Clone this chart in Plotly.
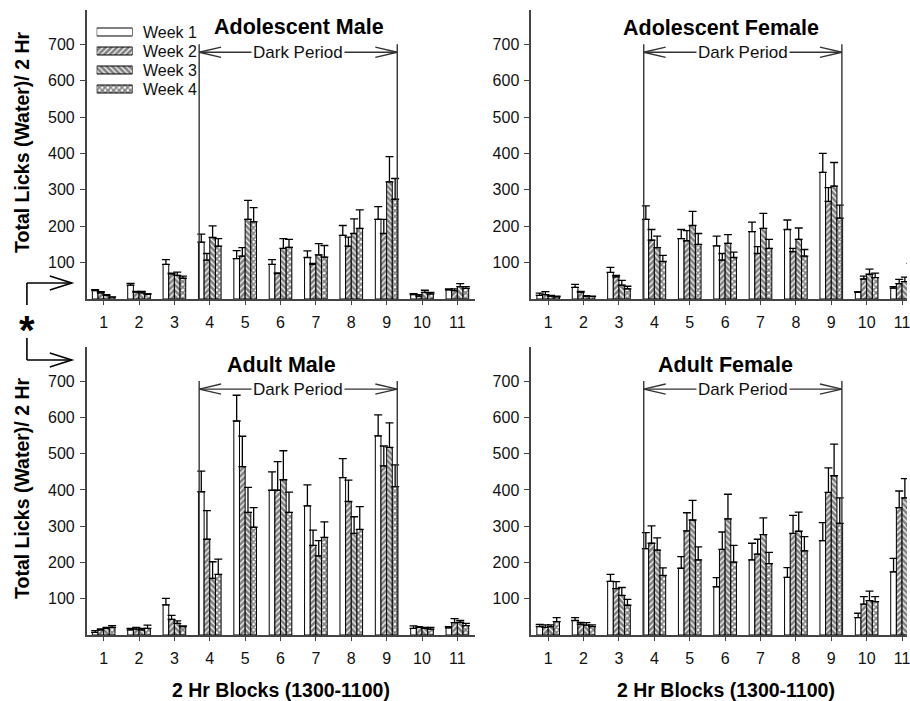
import plotly.graph_objects as go

W, H = 910, 701

blocks = list(range(1, 12))
week_names = ["Week 1", "Week 2", "Week 3", "Week 4"]
panel_titles = ["Adolescent Male", "Adolescent Female", "Adult Male", "Adult Female"]

# Mean total licks per 2-hr block (rows = weeks 1-4)
adol_male_mean = [
    [23, 38, 95, 156, 111, 95, 114, 175, 219, 12, 25],
    [17, 19, 69, 107, 118, 70, 95, 145, 180, 8, 23],
    [10, 17, 65, 169, 219, 139, 121, 180, 322, 18, 34],
    [5, 13, 57, 145, 212, 142, 115, 194, 274, 14, 29],
]
adol_male_sem = [
    [3, 5, 13, 22, 22, 13, 18, 27, 35, 3, 3],
    [3, 2, 2, 18, 23, 2, 3, 25, 39, 4, 5],
    [2, 4, 9, 32, 52, 27, 31, 40, 69, 6, 8],
    [1, 2, 6, 21, 39, 22, 32, 51, 57, 4, 5],
]
adol_female_mean = [
    [10, 32, 73, 219, 166, 146, 185, 191, 348, 18, 30],
    [12, 19, 61, 162, 160, 107, 125, 130, 268, 55, 42],
    [8, 7, 38, 141, 202, 153, 194, 164, 310, 68, 48],
    [6, 7, 28, 103, 150, 114, 139, 118, 222, 59, 60],
]
adol_female_sem = [
    [6, 8, 14, 37, 25, 27, 26, 26, 52, 2, 4],
    [8, 2, 4, 29, 28, 18, 19, 9, 38, 8, 12],
    [2, 2, 13, 32, 39, 24, 41, 31, 65, 14, 12],
    [2, 1, 7, 17, 30, 15, 25, 18, 36, 12, 38],
]
adult_male_mean = [
    [7, 14, 83, 395, 590, 399, 356, 434, 549, 18, 20],
    [14, 16, 43, 264, 464, 399, 247, 368, 466, 21, 34],
    [18, 14, 32, 156, 338, 428, 218, 280, 517, 18, 35],
    [21, 18, 23, 167, 297, 338, 269, 291, 409, 16, 26],
]
adult_male_sem = [
    [5, 4, 18, 57, 71, 51, 58, 52, 58, 7, 3],
    [3, 5, 11, 79, 84, 79, 42, 59, 55, 2, 11],
    [3, 4, 7, 46, 69, 80, 42, 46, 68, 3, 5],
    [5, 9, 2, 42, 54, 56, 43, 63, 60, 5, 6],
]
adult_female_mean = [
    [23, 40, 148, 238, 184, 133, 207, 159, 260, 48, 174],
    [21, 30, 128, 253, 287, 236, 223, 280, 393, 85, 351],
    [23, 27, 109, 234, 317, 320, 277, 286, 439, 95, 378],
    [37, 23, 82, 164, 207, 201, 197, 232, 308, 92, 300],
]
adult_female_sem = [
    [6, 8, 19, 44, 32, 25, 46, 27, 50, 12, 37],
    [7, 5, 19, 48, 50, 48, 41, 50, 68, 21, 46],
    [5, 7, 22, 34, 54, 68, 46, 53, 87, 26, 53],
    [11, 5, 16, 21, 36, 46, 31, 39, 70, 14, 50],
]

y_ticks = [100, 200, 300, 400, 500, 600, 700]
dark_start, dark_end = 3.70, 9.30

FONT = "Arial, Liberation Sans, sans-serif"
AXIS_COL = "#444444"

patterns = [
    dict(shape=""),
    dict(shape="/", size=4, solidity=0.7, fgcolor="black", bgcolor="white"),
    dict(shape="\\", size=4, solidity=0.7, fgcolor="black", bgcolor="white"),
    dict(shape="x", size=4, solidity=0.65, fgcolor="black", bgcolor="white"),
]

panels = [
    (adol_male_mean, adol_male_sem),
    (adol_female_mean, adol_female_sem),
    (adult_male_mean, adult_male_sem),
    (adult_female_mean, adult_female_sem),
]


def px_x(p):
    return p / W


def px_y(p):
    return 1 - p / H


fig = go.Figure()

for i, (means, sems) in enumerate(panels):
    n = i + 1
    for w in range(4):
        fig.add_trace(go.Bar(
            x=blocks, y=means[w], name=week_names[w],
            xaxis="x" if n == 1 else f"x{n}",
            yaxis="y" if n == 1 else f"y{n}",
            marker=dict(color="white", line=dict(color="black", width=1),
                        pattern=patterns[w]),
            error_y=dict(type="data", symmetric=False, array=sems[w],
                         arrayminus=[0] * len(blocks), color="black",
                         thickness=1.3, width=4),
            showlegend=False, hoverinfo="skip",
        ))

# legend key swatches drawn as short horizontal bars on a hidden axis
for w in range(4):
    fig.add_trace(go.Bar(
        x=[1], y=[w], orientation="h", xaxis="x5", yaxis="y5",
        width=0.42, offset=-0.21,
        marker=dict(color="white", line=dict(color="black", width=1),
                    pattern=patterns[w]),
        showlegend=False, hoverinfo="skip",
    ))

left_dom = [px_x(87), px_x(477)]
right_dom = [px_x(533), 1.0]
top_dom = [px_y(299), px_y(10)]
bot_dom = [px_y(635), px_y(347)]

x_ranges = [[0.521, 11.51], [0.521, 11.14], [0.521, 11.51], [0.521, 11.14]]
x_doms = [left_dom, right_dom, left_dom, right_dom]
y_doms = [top_dom, top_dom, bot_dom, bot_dom]
y_top = 794

layout = dict(
    width=W, height=H, margin=dict(l=0, r=0, t=0, b=0),
    paper_bgcolor="white", plot_bgcolor="white",
    barmode="group", bargap=0.36, bargroupgap=0,
    font=dict(family=FONT, color="black", size=15),
    showlegend=False,
)

for i in range(4):
    n = i + 1
    xk = "xaxis" if n == 1 else f"xaxis{n}"
    yk = "yaxis" if n == 1 else f"yaxis{n}"
    xa = "x" if n == 1 else f"x{n}"
    ya = "y" if n == 1 else f"y{n}"
    layout[xk] = dict(
        domain=x_doms[i], range=x_ranges[i], anchor=ya,
        tickvals=blocks, ticktext=[str(b) for b in blocks],
        ticks="outside", ticklen=4, tickcolor=AXIS_COL, tickwidth=1.2,
        showline=True, linecolor=AXIS_COL, linewidth=1.5,
        showgrid=False, zeroline=False, ticklabelstandoff=4,
        ticklabeloverflow="allow",
        tickfont=dict(size=16, family=FONT, color="#111"),
    )
    layout[yk] = dict(
        domain=y_doms[i], range=[0, y_top], anchor=xa,
        tickvals=y_ticks, ticks="outside", ticklen=5, tickcolor=AXIS_COL,
        tickwidth=1.2, showline=True, linecolor=AXIS_COL, linewidth=1.5,
        showgrid=False, zeroline=False, ticklabelstandoff=2,
        tickfont=dict(size=16, family=FONT, color="#111"),
    )

layout["xaxis5"] = dict(domain=[px_x(97), px_x(133)], range=[0, 1],
                        anchor="y5", visible=False)
layout["yaxis5"] = dict(domain=[px_y(98.5), px_y(22.5)], range=[3.5, -0.5],
                        anchor="x5", visible=False)

fig.update_layout(**layout)

shapes = []
annotations = []

# legend labels
for w in range(4):
    annotations.append(dict(
        x=px_x(141), y=px_y(32 + 19 * w), xref="paper", yref="paper",
        text=week_names[w], showarrow=False, xanchor="left", yanchor="middle",
        font=dict(size=16, family=FONT, color="#111"),
    ))

title_pos = [(6.53, 748), (5.87, 745), (6.02, 745), (6.0, 745)]
arrow_y = 678
vert_top = 700
arm_dx, arm_dy = 0.62, 14

for i in range(4):
    n = i + 1
    xa = "x" if n == 1 else f"x{n}"
    ya = "y" if n == 1 else f"y{n}"
    line = dict(color="#333333", width=1.4)
    for xv in (dark_start, dark_end):
        shapes.append(dict(type="line", xref=xa, yref=ya, x0=xv, x1=xv,
                           y0=0, y1=vert_top, line=line))
    shapes.append(dict(type="line", xref=xa, yref=ya, x0=dark_start, x1=dark_end,
                       y0=arrow_y, y1=arrow_y, line=line))
    shapes.append(dict(type="path", xref=xa, yref=ya, line=line,
                       path=f"M{dark_start + arm_dx},{arrow_y + arm_dy} L{dark_start},{arrow_y} "
                            f"L{dark_start + arm_dx},{arrow_y - arm_dy}"))
    shapes.append(dict(type="path", xref=xa, yref=ya, line=line,
                       path=f"M{dark_end - arm_dx},{arrow_y + arm_dy} L{dark_end},{arrow_y} "
                            f"L{dark_end - arm_dx},{arrow_y - arm_dy}"))
    annotations.append(dict(
        x=(dark_start + dark_end) / 2, y=arrow_y, xref=xa, yref=ya,
        xanchor="center", yanchor="middle",
        text="Dark Period", showarrow=False, bgcolor="white", borderpad=1,
        font=dict(size=17, family=FONT, color="#111"),
    ))
    tx, ty = title_pos[i]
    annotations.append(dict(
        x=tx, y=ty, xref=xa, yref=ya, xanchor="center", yanchor="middle",
        text=f"<b>{panel_titles[i]}</b>",
        showarrow=False, font=dict(size=21.5, family=FONT, color="black"),
    ))

# axis titles
for cy in (142, 488):
    annotations.append(dict(
        x=px_x(22), y=px_y(cy), xref="paper", yref="paper",
        xanchor="center", yanchor="middle",
        text="<b>Total Licks (Water)/ 2 Hr</b>", textangle=-90, showarrow=False,
        font=dict(size=19.5, family=FONT, color="black"),
    ))
for cx in (282, 728):
    annotations.append(dict(
        x=px_x(cx), y=px_y(690), xref="paper", yref="paper",
        xanchor="center", yanchor="middle",
        text="<b>2 Hr Blocks (1300-1100)</b>", showarrow=False,
        font=dict(size=19.5, family=FONT, color="black"),
    ))

# significance marker between the two rows
sig_line = dict(color="black", width=1.6)
for (y0, y1, ya) in ((283, 305, 283), (338, 360, 360)):
    shapes.append(dict(type="line", xref="paper", yref="paper",
                       x0=px_x(27), x1=px_x(27), y0=px_y(y0), y1=px_y(y1), line=sig_line))
    shapes.append(dict(type="line", xref="paper", yref="paper",
                       x0=px_x(27), x1=px_x(72), y0=px_y(ya), y1=px_y(ya), line=sig_line))
    shapes.append(dict(type="path", xref="paper", yref="paper", line=sig_line,
                       path=f"M{px_x(50)},{px_y(ya - 7)} L{px_x(72)},{px_y(ya)} "
                            f"L{px_x(50)},{px_y(ya + 7)}"))
annotations.append(dict(
    x=px_x(27), y=px_y(330), xref="paper", yref="paper", text="<b>*</b>",
    xanchor="center", yanchor="middle",
    showarrow=False, font=dict(size=40, family=FONT, color="black"),
))

fig.update_layout(shapes=shapes, annotations=annotations)
fig.write_html("out.html")
